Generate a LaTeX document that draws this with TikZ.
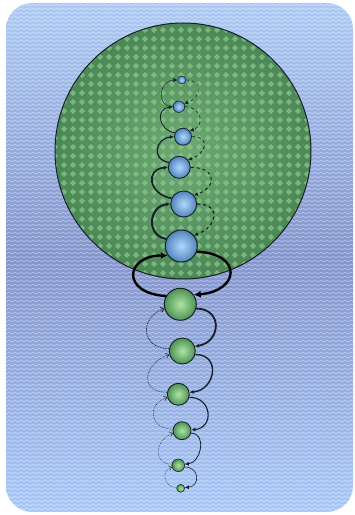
\documentclass[tikz,border=0pt]{standalone}
\usetikzlibrary{arrows.meta,patterns,shadings}
\pgfdeclarepatternformonly{diamondgrid}{\pgfqpoint{0pt}{0pt}}{\pgfqpoint{8.5pt}{8.5pt}}{\pgfqpoint{8.5pt}{8.5pt}}{%
  \pgfpathmoveto{\pgfqpoint{4.25pt}{0.9pt}}%
  \pgfpathlineto{\pgfqpoint{7.6pt}{4.25pt}}%
  \pgfpathlineto{\pgfqpoint{4.25pt}{7.6pt}}%
  \pgfpathlineto{\pgfqpoint{0.9pt}{4.25pt}}%
  \pgfpathclose\pgfusepath{fill}}
\pgfdeclarepatternformonly{wavelines}{\pgfqpoint{-0.5pt}{-0.5pt}}{\pgfqpoint{6.5pt}{4.5pt}}{\pgfqpoint{6pt}{4pt}}{%
  \pgfsetlinewidth{0.6pt}%
  \pgfpathmoveto{\pgfqpoint{0pt}{1pt}}%
  \pgfpathcurveto{\pgfqpoint{1pt}{1pt}}{\pgfqpoint{2pt}{3pt}}{\pgfqpoint{3pt}{3pt}}%
  \pgfpathcurveto{\pgfqpoint{4pt}{3pt}}{\pgfqpoint{5pt}{1pt}}{\pgfqpoint{6pt}{1pt}}%
  \pgfusepath{stroke}}
\definecolor{bgtop}{HTML}{ACCAF4}
\definecolor{bgmid}{HTML}{8494CC}
\definecolor{bgbot}{HTML}{A8C8F8}
\definecolor{bigin}{HTML}{6EAA72}
\definecolor{bigout}{HTML}{4C8856}
\definecolor{dia}{HTML}{92CC94}
\definecolor{blin}{HTML}{B0D8FC}
\definecolor{blout}{HTML}{5284BC}
\definecolor{grin}{HTML}{ACE4A4}
\definecolor{grout}{HTML}{4E9254}
\definecolor{edge}{HTML}{16202A}
\begin{document}
\begin{tikzpicture}[x=1pt,y=1pt,
  bnode/.style={circle,draw=edge,line width=0.9pt,inner sep=0pt,shading=radial,inner color=blin,outer color=blout},
  gnode/.style={circle,draw=edge,line width=0.9pt,inner sep=0pt,shading=radial,inner color=grin,outer color=grout},
  solidarr/.style={draw=edge,-{Latex[length=4pt,width=4pt]}},
  dasharr/.style={draw=edge,dashed,-{Latex[length=4pt,width=4pt]}},
  dotarr/.style={draw=edge,dash pattern=on 0.8pt off 0.9pt,-{Straight Barb[length=3pt,width=5pt]}},
  ringarr/.style={draw=black,line width=2.4pt,-{Latex[length=7pt,width=7pt]}}]
\useasboundingbox (0,0) rectangle (355,515);
% background
\path[rounded corners=26pt,top color=bgtop,bottom color=bgbot,middle color=bgmid] (6,3) rectangle (353,512);
\path[rounded corners=26pt,pattern=wavelines,pattern color=white,opacity=0.45] (6,3) rectangle (353,512);
% big circle
\node[circle,inner sep=0pt,minimum size=256pt,shading=radial,inner color=bigin,outer color=bigout] (big) at (183,364) {};
\path[pattern=diamondgrid,pattern color=dia,opacity=0.65] (183,364) circle[radius=128pt];
\draw[edge,line width=1pt] (183,364) circle[radius=128pt];
% blue nodes
\node[bnode,minimum size=8pt,line width=0.5pt] (b1) at (181.7,435) {};
\node[bnode,minimum size=11.5pt,line width=0.6pt] (b2) at (179,408.3) {};
\node[bnode,minimum size=17pt,line width=0.8pt] (b3) at (183,378.3) {};
\node[bnode,minimum size=22pt] (b4) at (179.3,347.7) {};
\node[bnode,minimum size=26pt] (b5) at (183.7,311) {};
\node[bnode,minimum size=32pt,line width=1pt] (b6) at (181.3,269) {};
% green nodes
\node[gnode,minimum size=32pt,line width=1pt] (g1) at (180.3,210.7) {};
\node[gnode,minimum size=26pt] (g2) at (182.3,164) {};
\node[gnode,minimum size=22pt] (g3) at (178.3,120.7) {};
\node[gnode,minimum size=18pt,line width=0.8pt] (g4) at (182,84.3) {};
\node[gnode,minimum size=12.6pt,line width=0.6pt] (g5) at (178.3,49.7) {};
\node[gnode,minimum size=8pt,line width=0.5pt] (g6) at (180.7,26.7) {};
% blue chain, left solid arcs (upwards)
\draw[solidarr,line width=2pt] (b6.155) to[out=170,in=185,looseness=1.55] (b5.west);
\draw[solidarr,line width=1.6pt] (b5.155) to[out=170,in=185,looseness=1.9] (b4.west);
\draw[solidarr,line width=1.2pt] (b4.155) to[out=170,in=185,looseness=1.8] (b3.west);
\draw[solidarr,line width=0.8pt] (b3.155) to[out=170,in=185,looseness=1.7] (b2.west);
\draw[solidarr,line width=0.4pt] (b2.180) to[out=180,in=180,looseness=1.7] (b1.west);
% blue chain, right dashed arcs (downwards)
\draw[dasharr,line width=0.4pt] (b1.east) to[out=0,in=20,looseness=2] (b2.30);
\draw[dasharr,line width=0.6pt] (b2.east) to[out=0,in=20,looseness=1.7] (b3.40);
\draw[dasharr,line width=0.8pt] (b3.east) to[out=0,in=20,looseness=2.1] (b4.40);
\draw[dasharr,line width=1pt] (b4.east) to[out=0,in=20,looseness=2.3] (b5.40);
\draw[dasharr,line width=1.2pt] (b5.east) to[out=0,in=20,looseness=2] (b6.40);
% ring between the two chains
\draw[ringarr] (g1.150) .. controls +(-46,3) and +(-42,0) .. (b6.215);
\draw[ringarr] (b6.-20) .. controls +(46,-2) and +(46,4) .. (g1.35);
% green chain, right solid arcs (downwards)
\draw[solidarr,line width=1.8pt] (g1.-15) to[out=0,in=10,looseness=1.8] (g2.20);
\draw[solidarr,line width=1.4pt] (g2.-15) to[out=0,in=5,looseness=1.75] (g3.10);
\draw[solidarr,line width=1.1pt] (g3.-15) to[out=0,in=5,looseness=1.8] (g4.5);
\draw[solidarr,line width=0.8pt] (g4.-15) to[out=0,in=5,looseness=1.3] (g5.10);
\draw[solidarr,line width=0.6pt] (g5.-15) to[out=0,in=5,looseness=1.9] (g6.10);
% green chain, left dotted arcs (upwards)
\draw[dotarr,line width=0.8pt] (g2.170) to[out=180,in=200,looseness=1.75] (g1.195);
\draw[dotarr,line width=0.6pt] (g3.170) to[out=180,in=200,looseness=1.9] (g2.195);
\draw[dotarr,line width=0.5pt] (g4.170) to[out=180,in=200,looseness=1.8] (g3.195);
\draw[dotarr,line width=0.4pt] (g5.170) to[out=180,in=200,looseness=1.6] (g4.195);
\draw[dotarr,line width=0.35pt] (g6.170) to[out=180,in=200,looseness=1.5] (g5.195);
\end{tikzpicture}
\end{document}
